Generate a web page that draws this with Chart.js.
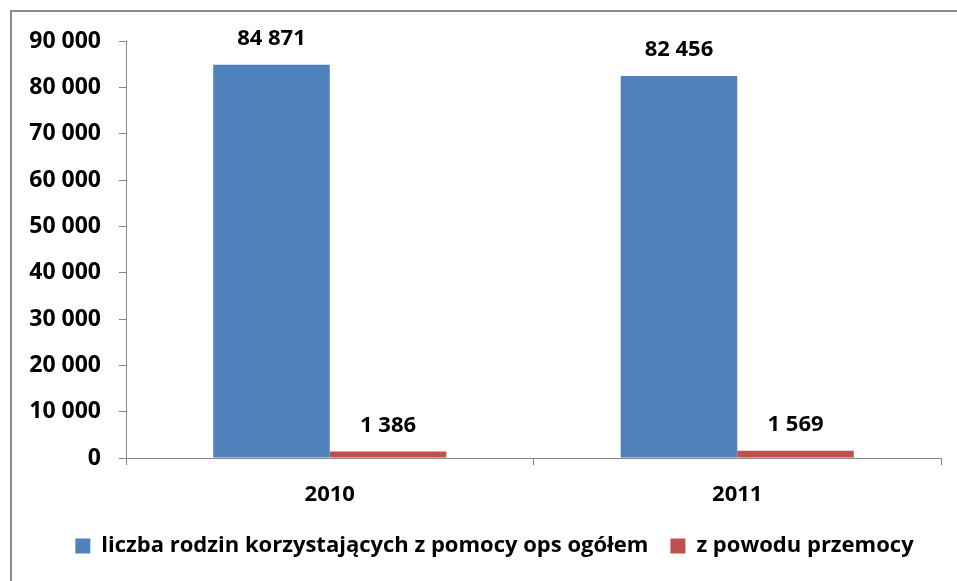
<!DOCTYPE html>
<html>
<head>
<meta charset="utf-8">
<script src="https://cdn.jsdelivr.net/npm/chart.js@4"></script>
<style>
  html, body { margin: 0; padding: 0; background: #fff; overflow: hidden; }
  #wrap { position: relative; width: 957px; height: 581px; }
  #frame { position: absolute; left: 10px; top: 10px; width: 1000px; height: 700px; border: 2px solid #8c8c8c; box-sizing: border-box; }
  canvas { position: absolute; left: 0; top: 0; }
</style>
</head>
<body>
<div id="wrap">
  <div id="frame"></div>
  <canvas id="chart" width="957" height="581"></canvas>
</div>
<script>
const years = ['2010', '2011'];
const totalFamilies = [84871, 82456];
const violenceFamilies = [1386, 1569];
const seriesNames = ['liczba rodzin korzystających z pomocy ops ogółem', 'z powodu przemocy'];

const FONT = '"Open Sans", Calibri, sans-serif';

function fmt(v) {
    return String(v).replace(/\B(?=(\d{3})+(?!\d))/g, ' ');
}

//Draws the value above every bar
const valueLabels = {
    id: 'valueLabels',
    afterDatasetsDraw(chart) {
        const ctx = chart.ctx;
        ctx.save();
        ctx.font = 'bold 22px ' + FONT;
        ctx.fillStyle = '#000';
        ctx.textAlign = 'center';
        ctx.textBaseline = 'middle';
        chart.data.datasets.forEach((ds, i) => {
            chart.getDatasetMeta(i).data.forEach((bar, j) => {
                ctx.fillText(fmt(ds.data[j]), bar.x, bar.y - 26);
            });
        });
        ctx.restore();
    }
};

//Legend in the original sits a bit right of the canvas centre
const shiftLegend = {
    id: 'shiftLegend',
    afterLayout(chart) {
        chart.legend.left += 24;
        chart.legend.right += 24;
    }
};

new Chart(document.getElementById('chart'), {
    type: 'bar',
    data: {
        labels: years,
        datasets: [
            { label: seriesNames[0], data: totalFamilies, backgroundColor: '#4F81BD' },
            { label: seriesNames[1], data: violenceFamilies, backgroundColor: '#C0504D' }
        ]
    },
    options: {
        responsive: false,
        animation: false,
        devicePixelRatio: 1,
        categoryPercentage: 0.572,
        barPercentage: 1,
        layout: { padding: { top: 41, right: 16, bottom: 14, left: 0 } },
        plugins: {
            tooltip: { enabled: false },
            legend: {
                position: 'bottom',
                labels: {
                    color: '#000',
                    font: { family: FONT, size: 22, weight: 'bold' },
                    boxWidth: 15, boxHeight: 15,
                    padding: 22
                }
            }
        },
        scales: {
            y: {
                min: 0, max: 90000,
                ticks: {
                    stepSize: 10000,
                    color: '#000',
                    padding: 18,
                    font: { family: FONT, size: 23, weight: 'bold' },
                    callback: v => fmt(v)
                },
                grid: { drawOnChartArea: false, tickLength: 7, color: '#868686' },
                border: { color: '#868686', width: 1 },
                afterFit: s => { s.width = 126; }
            },
            x: {
                ticks: {
                    color: '#000',
                    padding: 17,
                    font: { family: FONT, size: 22, weight: 'bold' }
                },
                grid: { drawOnChartArea: false, tickLength: 7, color: '#868686', offset: true },
                border: { color: '#868686', width: 1 },
                afterFit: s => { s.height = 55; }
            }
        }
    },
    plugins: [valueLabels, shiftLegend]
});
</script>
</body>
</html>
